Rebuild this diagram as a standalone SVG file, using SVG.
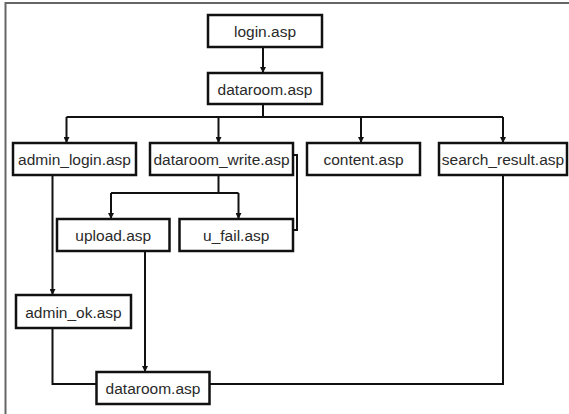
<svg xmlns="http://www.w3.org/2000/svg" width="569" height="414" viewBox="0 0 569 414">
<style>
.box{fill:#fff;stroke:#111;stroke-width:2.5}
.lbl{font-family:"Liberation Sans",Arial,sans-serif;font-size:15.5px;fill:#2a2a2a;text-anchor:middle}
.con{fill:none;stroke:#111;stroke-width:2}
.frame{fill:none;stroke:#666;stroke-width:2}
</style>
<defs>
<marker id="ah" viewBox="0 0 6 6" refX="6" refY="3" markerWidth="6" markerHeight="6" markerUnits="userSpaceOnUse" orient="auto">
<path d="M0,0 L6,3 L0,6 z" fill="#111"/>
</marker>
</defs>
<rect width="569" height="414" fill="#fff"/>
<path class="frame" d="M5.5,414 V3 H569"/>
<g id="connectors">
<path class="con" d="M263,47 V73" marker-end="url(#ah)"/>
<path class="con" d="M263,104 V117 M66.5,117 H503"/>
<path class="con" d="M66.5,117 V143" marker-end="url(#ah)"/>
<path class="con" d="M218.5,117 V143" marker-end="url(#ah)"/>
<path class="con" d="M361,117 V143" marker-end="url(#ah)"/>
<path class="con" d="M503,117 V143" marker-end="url(#ah)"/>
<path class="con" d="M218.5,175 V193 M111,193 H238.5"/>
<path class="con" d="M111,193 V219" marker-end="url(#ah)"/>
<path class="con" d="M238.5,193 V219" marker-end="url(#ah)"/>
<path class="con" d="M293,155 H297 V230 H293"/>
<path class="con" d="M52.5,175 V295" marker-end="url(#ah)"/>
<path class="con" d="M52.5,328 V384 H96.5"/>
<path class="con" d="M145,251 V372" marker-end="url(#ah)"/>
<path class="con" d="M503,175 V384 H209.5"/>
</g>
<g id="login"><rect class="box" x="208" y="15" width="114" height="32"/><text class="lbl" x="265" y="37">login.asp</text></g>
<g id="dataroom1"><rect class="box" x="208" y="73" width="114" height="31"/><text class="lbl" x="265" y="94.5">dataroom.asp</text></g>
<g id="admin_login"><rect class="box" x="13" y="143" width="123" height="32"/><text class="lbl" x="74.5" y="165">admin_login.asp</text></g>
<g id="dataroom_write"><rect class="box" x="150" y="143" width="143" height="32"/><text class="lbl" x="221.5" y="165">dataroom_write.asp</text></g>
<g id="content"><rect class="box" x="307" y="143" width="113" height="32"/><text class="lbl" x="363.5" y="165">content.asp</text></g>
<g id="search_result"><rect class="box" x="439" y="143" width="128" height="32"/><text class="lbl" x="503" y="165">search_result.asp</text></g>
<g id="upload"><rect class="box" x="57" y="219" width="112.5" height="32"/><text class="lbl" x="113.25" y="241">upload.asp</text></g>
<g id="u_fail"><rect class="box" x="179.5" y="219" width="113.5" height="32"/><text class="lbl" x="236.25" y="241">u_fail.asp</text></g>
<g id="admin_ok"><rect class="box" x="16" y="295" width="115" height="33"/><text class="lbl" x="73.5" y="317.5">admin_ok.asp</text></g>
<g id="dataroom2"><rect class="box" x="96.5" y="372" width="113" height="32"/><text class="lbl" x="153" y="394">dataroom.asp</text></g>
</svg>
